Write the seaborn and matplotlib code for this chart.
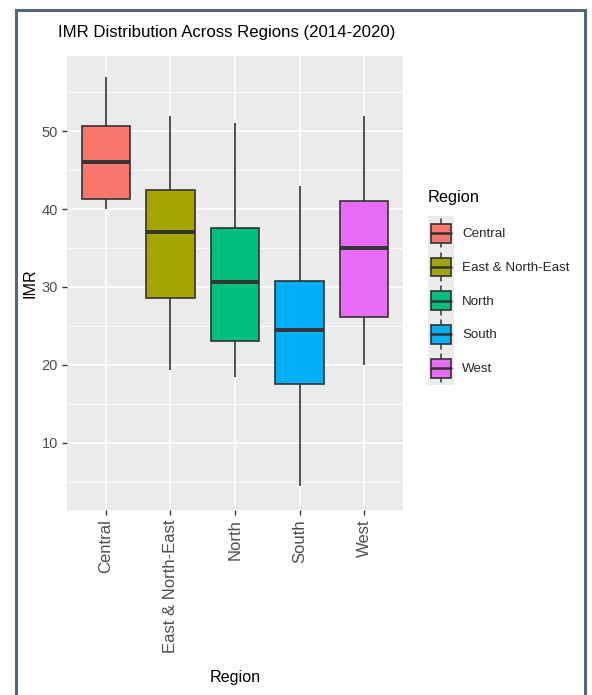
import numpy as np
import pandas as pd
import matplotlib
matplotlib.use("Agg")
import matplotlib.pyplot as plt
import seaborn as sns
from matplotlib.patches import Rectangle, Patch
from matplotlib.lines import Line2D
from matplotlib.legend_handler import HandlerBase
from matplotlib.ticker import MultipleLocator

# ---- data ----
regions = ["Central", "East & North-East", "North", "South", "West"]
imr_low = [40.0, 19.3, 18.4, 4.4, 20.0]
imr_q1 = [41.3, 28.6, 23.1, 17.5, 26.1]
imr_median = [46.0, 37.0, 30.6, 24.5, 35.0]
imr_q3 = [50.7, 42.5, 37.5, 30.8, 41.0]
imr_high = [57.0, 52.0, 51.0, 43.0, 52.0]
colors = ["#F8766D", "#A3A500", "#00BF7D", "#00B0F6", "#E76BF3"]
y_ticks = [10, 20, 30, 40, 50]

rows = []
for i, r in enumerate(regions):
    for v in (imr_low[i], imr_q1[i], imr_median[i], imr_q3[i], imr_high[i]):
        rows.append({"Region": r, "IMR": v})
df = pd.DataFrame(rows)

sns.set_theme(style="white")
FONT = ["Liberation Sans", "DejaVu Sans"]
plt.rcParams["font.family"] = FONT

fig = plt.figure(figsize=(5.92, 6.95), dpi=100)
W, H = 592, 695
ax = fig.add_axes([67 / W, 1 - 510 / H, 336 / W, 454 / H])
ax.set_facecolor("#EBEBEB")

palette = dict(zip(regions, colors))
sns.boxplot(data=df, x="Region", y="IMR", hue="Region", order=regions,
            hue_order=regions, palette=palette, saturation=1, width=0.75,
            whis=(0, 100), showcaps=False, linewidth=1.2, linecolor="#333333",
            medianprops=dict(linewidth=2.8, color="#333333"),
            legend=False, ax=ax, zorder=3)

ax.set_xlim(-0.6, 4.6)
ax.set_ylim(1.35, 59.65)
ax.set_yticks(y_ticks)
ax.yaxis.set_minor_locator(MultipleLocator(5))
ax.set_axisbelow(True)
ax.grid(which="major", color="white", linewidth=1.2)
ax.grid(which="minor", axis="y", color="white", linewidth=0.6)
for s in ax.spines.values():
    s.set_visible(False)

ax.tick_params(axis="both", which="major", length=3.5, width=1.0, color="#333333",
               labelcolor="#4D4D4D", left=True, bottom=True)
ax.tick_params(axis="y", which="major", labelsize=10.5, pad=3)
ax.tick_params(axis="x", which="major", labelsize=12, pad=3)
ax.tick_params(axis="y", which="minor", length=0, left=False)
for lab in ax.get_xticklabels():
    lab.set_rotation(90)
    lab.set_va("top")
    lab.set_ha("center")

ax.set_xlabel("Region", fontsize=11.6, color="black")
ax.set_ylabel("IMR", fontsize=11.6, color="black")
ax.xaxis.set_label_coords(0.5, -(160 / 454))
ax.yaxis.set_label_coords(-(30 / 336), 0.5)

fig.text(58 / W, 1 - 33 / H, "IMR Distribution Across Regions (2014-2020)",
         fontsize=12.1, color="black", ha="left", va="center")


class BoxHandler(HandlerBase):
    def create_artists(self, legend, orig_handle, xdescent, ydescent, width,
                       height, fontsize, trans):
        color = orig_handle.get_facecolor()
        ext = legend.labelspacing * fontsize / 2
        x0, y0 = -xdescent, -ydescent
        bg = Rectangle((x0, y0 - ext), width, height + 2 * ext,
                       facecolor="#EBEBEB", edgecolor="none", transform=trans)
        bw = width * 0.77
        bx = x0 + (width - bw) / 2
        b0 = y0 + height * 0.17
        b1 = y0 + height * 0.83
        cx = x0 + width / 2
        mid = (b0 + b1) / 2
        w1 = Line2D([cx, cx], [y0, b0], color="#333333", lw=1.1,
                    transform=trans)
        w2 = Line2D([cx, cx], [b1, y0 + height], color="#333333",
                    lw=1.1, transform=trans)
        box = Rectangle((bx, b0), bw, b1 - b0, facecolor=color,
                        edgecolor="#333333", lw=1.2, transform=trans)
        med = Line2D([bx, bx + bw], [mid, mid], color="#333333", lw=1.8,
                     transform=trans)
        return [bg, w1, w2, box, med]


fig.text(428 / W, 1 - 197 / H, "Region", fontsize=11.8, color="black",
         ha="left", va="center")

handles = [Patch(facecolor=c) for c in colors]
leg = fig.legend(handles, regions, loc="upper left",
                 bbox_to_anchor=(428 / W, 1 - 219 / H),
                 bbox_transform=fig.transFigure, frameon=False,
                 handler_map={Patch: BoxHandler()}, fontsize=9.6,
                 handlelength=1.95, handleheight=2.9, labelspacing=0.4,
                 handletextpad=0.6, borderpad=0, borderaxespad=0)

fig.patches.append(Rectangle((16 / W, -0.02), (585 - 16) / W, (H - 10) / H + 0.02,
                             transform=fig.transFigure, fill=False,
                             edgecolor="#56667F", linewidth=2.2))

fig.savefig("out.png", dpi=100)
